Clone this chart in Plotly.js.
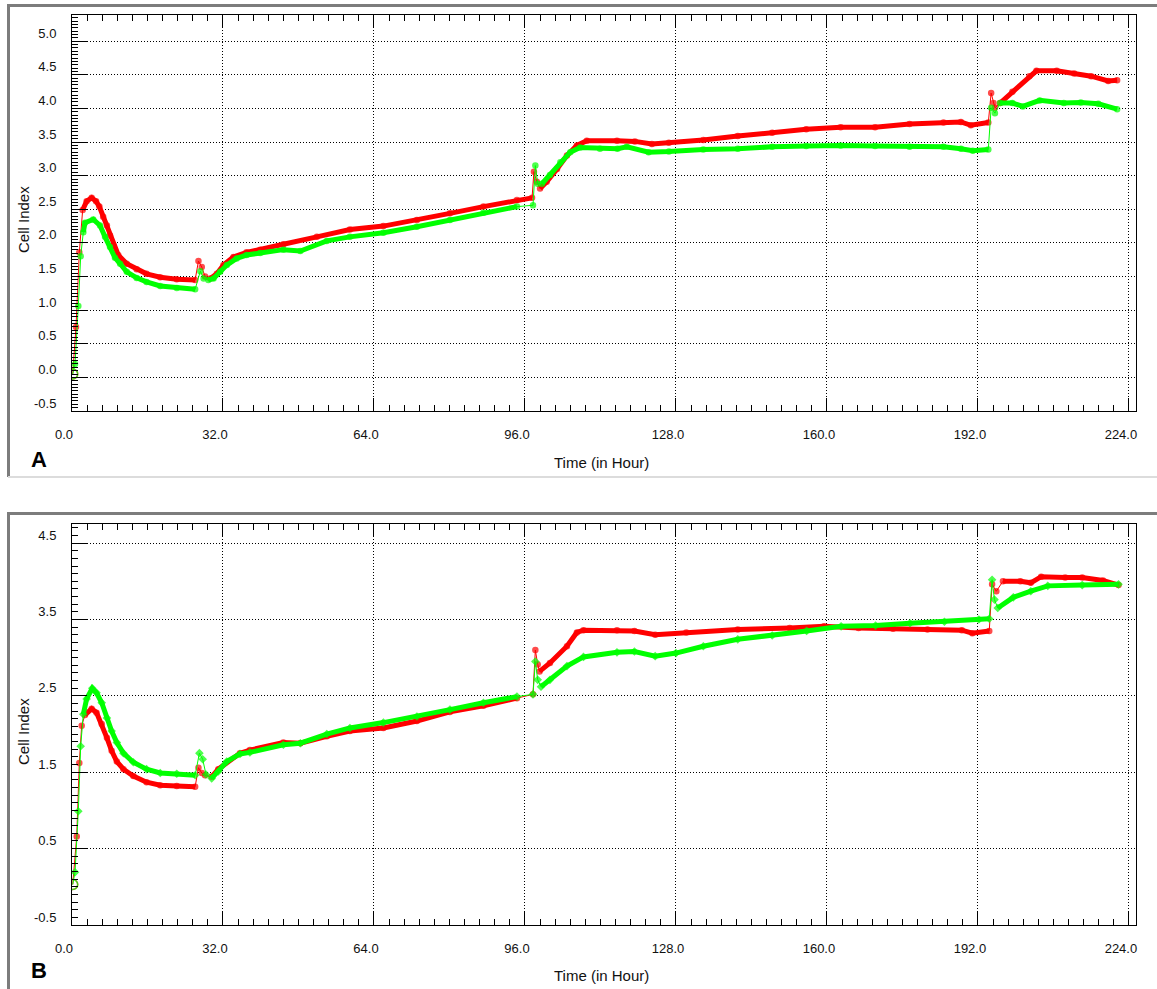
<!DOCTYPE html>
<html>
<head>
<meta charset="utf-8">
<script src="https://cdn.plot.ly/plotly-3.0.1.min.js"></script>
<style>html,body{margin:0;padding:0;background:#fff;}#chart{width:1157px;height:989px;}</style>
</head>
<body>
<div id="chart"></div>
<script>
// ---------- data ----------
// Panel A, red series
const tA_red = [0.15,0.85,1.55,2.26,3.1,4.17,5.1,5.8,6.6,7.4,8.06,8.8,9.8,11.6,13.7,15.8,18.7,22.2,26.1,
  26.8,27.5,28.2,29.3,30.7,32.1,34.2,37.0,39.9,44.8,51.9,58.9,66.0,73.1,80.1,87.2,94.3,97.5,
  97.9,98.5,99.2,100.6,102.8,104.9,107.0,109.1,115.5,119.3,122.9,126.5,133.8,141.1,148.4,155.6,162.9,170.2,177.5,184.7,188.4,190.5,194.2,
  194.8,195.3,195.6,196.7,199.3,202.9,204.4,208.7,212.4,216.0,219.6,221.5];
const vA_red = [0.05,0.75,1.86,2.49,2.62,2.67,2.62,2.54,2.39,2.26,2.11,1.96,1.82,1.69,1.61,1.54,1.49,1.46,1.45,
  1.73,1.64,1.50,1.47,1.54,1.67,1.79,1.86,1.90,1.98,2.09,2.20,2.25,2.34,2.44,2.54,2.64,2.67,
  3.06,2.91,2.81,2.91,3.10,3.30,3.45,3.52,3.52,3.51,3.47,3.49,3.53,3.59,3.64,3.69,3.72,3.72,3.77,3.79,3.80,3.75,3.79,
  4.23,4.08,4.01,4.08,4.25,4.48,4.56,4.56,4.52,4.48,4.41,4.42];
// Panel A, green series
const tA_green = [0.15,0.64,1.34,1.84,2.4,2.75,4.5,5.94,7.0,8.06,9.1,10.2,11.6,13.7,15.8,18.7,22.2,26.1,
  27.2,27.9,28.9,30.0,31.4,32.8,34.9,37.0,39.9,44.8,48.4,54.0,58.9,66.0,73.1,80.1,87.2,94.3,97.7,
  98.2,98.7,99.6,101.3,103.5,105.6,107.7,111.9,115.6,117.6,122.2,126.5,133.8,141.1,148.4,155.6,162.9,170.2,177.5,184.7,188.4,190.9,194.2,
  194.8,195.6,196.7,199.3,201.5,205.1,210.2,213.8,217.5,221.5];
const vA_green = [0.05,0.20,1.06,1.80,2.16,2.30,2.35,2.26,2.09,1.94,1.78,1.69,1.57,1.48,1.42,1.36,1.33,1.31,
  1.58,1.47,1.45,1.47,1.57,1.67,1.77,1.82,1.85,1.90,1.88,2.03,2.09,2.15,2.24,2.34,2.45,2.54,2.56,
  3.15,2.88,2.88,3.01,3.20,3.35,3.42,3.40,3.40,3.43,3.35,3.36,3.39,3.40,3.43,3.44,3.45,3.44,3.43,3.43,3.40,3.37,3.39,
  4.01,3.93,4.08,4.08,4.03,4.12,4.08,4.09,4.07,3.99];
// Panel B, red series
const tB_red = [0.15,1.0,1.55,2.05,2.75,4.17,5.2,6.3,7.4,8.4,9.5,10.9,13.0,15.8,18.7,22.2,26.1,
  26.8,27.5,28.2,29.6,31.0,35.6,37.7,44.8,48.4,54.0,58.9,66.0,73.1,80.1,87.2,94.3,97.7,
  98.2,98.7,99.1,101.3,104.9,107.0,108.4,115.5,119.2,123.6,130.2,141.1,152.1,159.4,166.7,174.0,181.3,188.6,190.8,194.4,
  195.0,195.9,197.3,201.0,203.2,205.4,210.5,214.1,218.5,221.8];
const vB_red = [0.03,0.66,1.62,2.11,2.25,2.33,2.28,2.13,1.95,1.78,1.64,1.54,1.45,1.37,1.33,1.32,1.31,
  1.56,1.49,1.46,1.44,1.54,1.75,1.79,1.89,1.88,1.97,2.04,2.08,2.17,2.29,2.37,2.47,2.52,
  3.10,2.91,2.82,2.93,3.15,3.33,3.36,3.36,3.35,3.30,3.33,3.37,3.39,3.41,3.39,3.38,3.37,3.36,3.32,3.35,
  3.96,3.87,4.00,4.00,3.98,4.06,4.05,4.05,4.01,3.95];
// Panel B, green series
const tB_green = [0.15,0.64,1.34,1.84,2.4,3.1,4.3,5.2,6.3,7.4,8.4,9.5,10.9,13.0,15.8,18.7,22.2,26.1,
  27.0,27.7,28.4,29.6,31.0,32.8,35.6,37.7,44.8,48.4,54.0,58.9,66.0,73.1,80.1,87.2,94.3,97.7,
  98.2,98.7,99.4,101.3,104.9,108.4,115.5,119.2,123.6,128.0,133.8,141.1,148.4,155.7,163.0,170.3,177.6,184.9,192.2,194.4,
  195.0,195.5,196.2,199.5,203.2,206.8,214.1,221.8];
const vB_green = [0.03,0.19,0.99,1.84,2.26,2.46,2.60,2.54,2.41,2.21,2.04,1.89,1.75,1.63,1.54,1.49,1.48,1.46,
  1.75,1.67,1.47,1.42,1.51,1.64,1.74,1.76,1.86,1.88,2.00,2.08,2.15,2.23,2.32,2.41,2.49,2.52,
  2.95,2.71,2.62,2.71,2.89,3.01,3.07,3.08,3.02,3.06,3.15,3.24,3.29,3.35,3.41,3.42,3.45,3.47,3.50,3.51,
  4.02,3.76,3.65,3.79,3.87,3.94,3.95,3.96];
// Medium-change events (hours): interval where the trace is a thin jump
const eventWindows = [[0, 2.25], [26.3, 28.9], [97.6, 99.1], [194.45, 196.0]];
// Tick values
const xTickVals = [0, 32, 64, 96, 128, 160, 192, 224];
const yTickValsA = [-0.5, 0, 0.5, 1, 1.5, 2, 2.5, 3, 3.5, 4, 4.5, 5];
const yTickValsB = [-0.5, 0.5, 1.5, 2.5, 3.5, 4.5];
const xTitle = 'Time (in Hour)';
const yTitle = 'Cell Index';

// ---------- helpers ----------
const W = 1157, H = 989;
const px = x => x / W, py = y => 1 - y / H;
const fmt = v => v.toFixed(1);
function thickY(t, v) {
  return v.map((val, i) => eventWindows.some(w => t[i] > w[0] && t[i] < w[1]) ? null : val);
}
function series(t, v, color, xa, ya, sym) {
  const syms = t.map((_, i) => i === 0 ? 'circle-open' : sym);
  const sizes = t.map((_, i) => i === 0 ? 10 : 5);
  return [
    {x: t, y: thickY(t, v), xaxis: xa, yaxis: ya, mode: 'lines', connectgaps: false,
     line: {color: color, width: 5}, hoverinfo: 'skip', showlegend: false},
    {x: t, y: v, xaxis: xa, yaxis: ya, mode: 'lines+markers',
     line: {color: color, width: 1},
     marker: {color: color, size: sizes, symbol: syms, line: {color: color, width: 1.5}},
     showlegend: false}
  ];
}

const data = [
  ...series(tA_red, vA_red, '#ff0000', 'x', 'y', 'circle'),
  ...series(tA_green, vA_green, '#00ff00', 'x', 'y', 'circle'),
  ...series(tB_red, vB_red, '#ff0000', 'x2', 'y2', 'circle'),
  ...series(tB_green, vB_green, '#00ff00', 'x2', 'y2', 'diamond')
];

const tickFont = {family: 'Liberation Sans Narrow, Liberation Sans, Arial, sans-serif', size: 13, color: '#111'};
function xAxis(anchor) {
  return {
    domain: [px(72), px(1136)], range: [0, 225.5], anchor: anchor,
    tickmode: 'array', tickvals: xTickVals, ticktext: xTickVals.map(fmt),
    ticks: 'inside', ticklen: 13, tickwidth: 1, tickcolor: '#000',
    minor: {tickmode: 'linear', tick0: 0, dtick: 3.2, ticks: 'inside', ticklen: 6, tickcolor: '#000', tickwidth: 1, showgrid: false},
    showline: true, linecolor: '#000', linewidth: 1, mirror: 'ticks',
    showgrid: true, gridcolor: '#000', gridwidth: 1, griddash: '1px,2px',
    zeroline: false, tickfont: tickFont, ticklabelshift: -8, ticklabelstandoff: 11
  };
}
function yAxis(anchor, top, bottom, range, vals, minorDtick) {
  return {
    domain: [py(bottom), py(top)], range: range, anchor: anchor,
    tickmode: 'array', tickvals: vals, ticktext: vals.map(fmt),
    ticks: 'inside', ticklen: 15, tickwidth: 1, tickcolor: '#000',
    minor: {tickmode: 'linear', tick0: 0, dtick: minorDtick, ticks: 'inside', ticklen: 6, tickcolor: '#000', tickwidth: 1, showgrid: false},
    showline: true, linecolor: '#000', linewidth: 1, mirror: true,
    showgrid: true, gridcolor: '#000', gridwidth: 1, griddash: '1px,2px',
    zeroline: false, tickfont: tickFont, ticklabelshift: -8, ticklabelstandoff: 12
  };
}

const labelFont = {family: 'Liberation Sans Narrow, Liberation Sans, Arial, sans-serif', size: 15, color: '#111'};
const letterFont = {family: 'Liberation Sans, Arial, sans-serif', size: 22, color: '#000'};
const annotations = [
  {text: yTitle, x: px(23), y: py(220), xref: 'paper', yref: 'paper', textangle: -90, showarrow: false, font: labelFont, xanchor: 'center', yanchor: 'middle'},
  {text: yTitle, x: px(23), y: py(732), xref: 'paper', yref: 'paper', textangle: -90, showarrow: false, font: labelFont, xanchor: 'center', yanchor: 'middle'},
  {text: xTitle, x: px(601), y: py(462), xref: 'paper', yref: 'paper', showarrow: false, font: labelFont, xanchor: 'center', yanchor: 'middle'},
  {text: xTitle, x: px(601), y: py(975), xref: 'paper', yref: 'paper', showarrow: false, font: labelFont, xanchor: 'center', yanchor: 'middle'},
  {text: '<b>A</b>', x: px(39), y: py(459), xref: 'paper', yref: 'paper', showarrow: false, font: letterFont, xanchor: 'center', yanchor: 'middle'},
  {text: '<b>B</b>', x: px(39), y: py(970), xref: 'paper', yref: 'paper', showarrow: false, font: letterFont, xanchor: 'center', yanchor: 'middle'}
];
const frame = '#7c7c7c';
const shapes = [
  {type: 'line', xref: 'paper', yref: 'paper', x0: px(7), x1: px(1157), y0: py(5.5), y1: py(5.5), line: {color: frame, width: 3}},
  {type: 'line', xref: 'paper', yref: 'paper', x0: px(8.5), x1: px(8.5), y0: py(4), y1: py(477), line: {color: frame, width: 3}},
  {type: 'line', xref: 'paper', yref: 'paper', x0: px(8), x1: px(1157), y0: py(477), y1: py(477), line: {color: '#dcdcdc', width: 2}},
  {type: 'line', xref: 'paper', yref: 'paper', x0: px(7), x1: px(1157), y0: py(513.5), y1: py(513.5), line: {color: frame, width: 3}},
  {type: 'line', xref: 'paper', yref: 'paper', x0: px(8.5), x1: px(8.5), y0: py(512), y1: py(989), line: {color: frame, width: 3}}
];

const layout = {
  width: W, height: H, margin: {l: 0, r: 0, t: 0, b: 0},
  paper_bgcolor: '#fff', plot_bgcolor: '#fff', showlegend: false,
  xaxis: xAxis('y'), yaxis: yAxis('x', 15, 411, [-0.5, 5.39], yTickValsA, 0.05),
  xaxis2: xAxis('y2'), yaxis2: yAxis('x2', 524, 925, [-0.5, 4.75], yTickValsB, 0.1),
  annotations: annotations, shapes: shapes
};

Plotly.newPlot('chart', data, layout, {displayModeBar: false, staticPlot: true});
</script>
</body>
</html>
